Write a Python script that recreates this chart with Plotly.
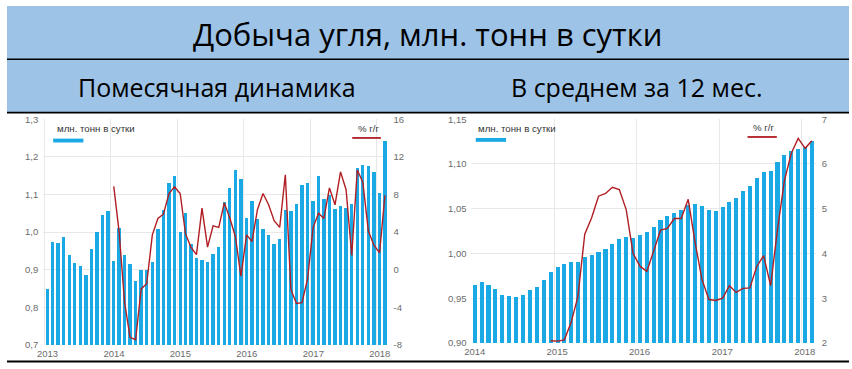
import pandas as pd
import plotly.graph_objects as go

# ---------------- data ----------------
title_text = "Добыча угля, млн. тонн в сутки"
subtitle_left = "Помесячная динамика"
subtitle_right = "В среднем за 12 мес."
bar_name = "млн. тонн в сутки"
line_name = "% г/г"

# Monthly output, mln t/day, Jan 2013 .. Feb 2018
monthly_months = pd.date_range("2013-01-01", "2018-02-01", freq="MS")
monthly_output = [
    0.849, 0.973, 0.972, 0.986, 0.939, 0.918, 0.909, 0.887, 0.956, 1.001, 1.045, 1.057,
    0.924, 1.011, 0.940, 0.916, 0.869, 0.898, 0.898, 0.921, 1.009, 1.059, 1.130, 1.150,
    1.000, 1.052, 0.969, 0.932, 0.926, 0.920, 0.941, 0.960, 1.081, 1.117, 1.164, 1.141,
    1.038, 1.083, 1.034, 1.008, 0.992, 0.968, 0.982, 1.059, 1.057, 1.075, 1.126, 1.130,
    1.083, 1.150, 1.088, 1.098, 1.061, 1.070, 1.065, 1.075, 1.169, 1.177, 1.176, 1.161,
    1.105, 1.242,
]
# Monthly y/y growth, %, Jan 2014 .. Feb 2018
monthly_yoy_months = pd.date_range("2014-01-01", "2018-02-01", freq="MS")
monthly_yoy = [
    8.85, 4.0, -3.4, -7.2, -7.45, -2.05, -1.5, 3.7, 5.45, 5.9, 8.1, 8.8,
    8.1, 3.8, 2.4, 1.6, 6.55, 2.4, 4.65, 4.5, 7.1, 5.5, 3.5, -0.7,
    3.7, 3.0, 6.4, 8.1, 6.9, 5.2, 4.5, 10.1, -2.1, -3.6, -3.5, -1.0,
    4.5, 6.0, 5.45, 8.7, 6.9, 10.4, 8.5, 1.5, 10.6, 9.3, 4.1, 2.6,
    1.8, 7.9,
]

# 12-month average output, mln t/day, Jan 2014 .. Feb 2018
avg_months = pd.date_range("2014-01-01", "2018-02-01", freq="MS")
avg_output = [
    0.9647, 0.968, 0.965, 0.960, 0.954, 0.952, 0.951, 0.954, 0.959, 0.963, 0.970, 0.979,
    0.9845, 0.9885, 0.990, 0.991, 0.9965, 0.998, 1.002, 1.005, 1.011, 1.0156, 1.0185, 1.0178,
    1.021, 1.0239, 1.0297, 1.0369, 1.042, 1.0456, 1.0489, 1.054, 1.0554, 1.0525, 1.0488, 1.048,
    1.0517, 1.0572, 1.0618, 1.0698, 1.0752, 1.0839, 1.0911, 1.0922, 1.102, 1.1103, 1.1146, 1.1168,
    1.1186, 1.1262,
]
# 12-month average y/y growth, %, Dec 2014 .. Feb 2018
avg_yoy_months = pd.date_range("2014-12-01", "2018-02-01", freq="MS")
avg_yoy = [
    2.05,
    2.04, 2.07, 2.45, 3.03, 4.43, 4.8, 5.28, 5.34, 5.48, 5.43, 4.98, 4.0,
    3.71, 3.6, 4.04, 4.52, 4.56, 4.78, 4.78, 5.21, 4.25, 3.42, 2.97, 2.95,
    3.0, 3.28, 3.13, 3.22, 3.23, 3.71, 3.95, 3.28, 4.54, 5.63, 6.24, 6.57,
    6.35, 6.52,
]

left_y_ticks = [0.7, 0.8, 0.9, 1.0, 1.1, 1.2, 1.3]
left_y2_ticks = [-8, -4, 0, 4, 8, 12, 16]
left_y2_labels = ["-8", "-4", "0", "4", "8", "12", "16"]
right_y_ticks = [0.90, 0.95, 1.00, 1.05, 1.10, 1.15]
right_y2_ticks = [2, 3, 4, 5, 6, 7]
right_y2_labels = ["2", "3", "4", "5", "6", "7"]

# ---------------- style ----------------
W, H = 852, 369
BAR_COLOR = "#1AA9E4"
LINE_COLOR = "#B01E23"
HEADER_BG = "#9DC3E6"
GRID = "#E8E8E8"
TICK_FONT = dict(family="Liberation Sans, Arial, sans-serif", size=9.5, color="#6b6b6b")
MONTH_MS = 30.44 * 86400000


def px_x(x):
    return x / W


def px_y(y):
    return 1 - y / H


fig = go.Figure()

# Left chart
fig.add_trace(go.Bar(x=monthly_months, y=monthly_output, xaxis="x", yaxis="y",
                     marker=dict(color=BAR_COLOR, line=dict(width=0)),
                     width=[0.6 * MONTH_MS] * len(monthly_output),
                     xperiod="M1", xperiodalignment="middle", name=bar_name))
fig.add_trace(go.Scatter(x=monthly_yoy_months, y=monthly_yoy, xaxis="x", yaxis="y2",
                         mode="lines", line=dict(color=LINE_COLOR, width=1.4),
                         xperiod="M1", xperiodalignment="middle", name=line_name))
# Right chart
fig.add_trace(go.Bar(x=avg_months, y=avg_output, xaxis="x2", yaxis="y3",
                     marker=dict(color=BAR_COLOR, line=dict(width=0)),
                     width=[0.6 * MONTH_MS] * len(avg_output),
                     xperiod="M1", xperiodalignment="middle", name=bar_name))
fig.add_trace(go.Scatter(x=avg_yoy_months, y=avg_yoy, xaxis="x2", yaxis="y4",
                         mode="lines", line=dict(color=LINE_COLOR, width=1.4),
                         xperiod="M1", xperiodalignment="middle", name=line_name))

xcommon = dict(type="date", dtick="M12", tickformat="%Y", showgrid=True, gridcolor=GRID,
               gridwidth=1, zeroline=False, showline=False, ticks="", tickfont=TICK_FONT,
               ticklabelshift=3, ticklabelstandoff=2, fixedrange=True)
ycommon = dict(showline=False, zeroline=False, ticks="", tickfont=TICK_FONT, fixedrange=True)

fig.update_layout(
    width=W, height=H, margin=dict(l=0, r=0, t=0, b=0),
    paper_bgcolor="white", plot_bgcolor="white",
    showlegend=False, separators=", ", bargap=0,
    xaxis=dict(xcommon, domain=[px_x(36.7), px_x(385)], anchor="y",
               range=["2012-12-25", "2018-03-01"], tick0="2013-01-01"),
    yaxis=dict(ycommon, domain=[px_y(349.3), px_y(116.7)], anchor="x",
               range=[0.7, 1.3], tickvals=left_y_ticks, tickformat=".1f",
               showgrid=True, gridcolor=GRID, ticklabelstandoff=4),
    yaxis2=dict(ycommon, overlaying="y", side="right", anchor="x",
                range=[-8, 16], tickvals=left_y2_ticks, ticktext=left_y2_labels,
                showgrid=False, ticklabelstandoff=5),
    xaxis2=dict(xcommon, domain=[px_x(470), px_x(818.3)], anchor="y3",
                range=["2013-12-31", "2018-03-04"], tick0="2014-01-01"),
    yaxis3=dict(ycommon, domain=[px_y(347.3), px_y(116.7)], anchor="x2",
                range=[0.90, 1.15], tickvals=right_y_ticks, tickformat=".2f",
                showgrid=True, gridcolor=GRID, ticklabelstandoff=4),
    yaxis4=dict(ycommon, overlaying="y3", side="right", anchor="x2",
                range=[2, 7], tickvals=right_y2_ticks, ticktext=right_y2_labels,
                showgrid=False, ticklabelstandoff=5),
)

shapes = [
    # header background and rules
    dict(type="rect", xref="paper", yref="paper", x0=0, x1=1, y0=px_y(110), y1=1,
         fillcolor=HEADER_BG, line=dict(width=0), layer="below"),
    dict(type="line", xref="paper", yref="paper", x0=0, x1=1, y0=px_y(55), y1=px_y(55),
         line=dict(color="black", width=1.5)),
    dict(type="line", xref="paper", yref="paper", x0=0, x1=1, y0=px_y(110), y1=px_y(110),
         line=dict(color="black", width=1.8)),
    dict(type="line", xref="paper", yref="paper", x0=0, x1=1, y0=px_y(366.5), y1=px_y(366.5),
         line=dict(color="black", width=2)),
    # legend keys
    dict(type="rect", xref="paper", yref="paper", x0=px_x(46.7), x1=px_x(77.3),
         y0=px_y(140.7), y1=px_y(136.7), fillcolor=BAR_COLOR, line=dict(width=0)),
    dict(type="line", xref="paper", yref="paper", x0=px_x(349.3), x1=px_x(378.3),
         y0=px_y(136), y1=px_y(136), line=dict(color=LINE_COLOR, width=1.8)),
    dict(type="rect", xref="paper", yref="paper", x0=px_x(474.3), x1=px_x(505),
         y0=px_y(140), y1=px_y(136), fillcolor=BAR_COLOR, line=dict(width=0)),
    dict(type="line", xref="paper", yref="paper", x0=px_x(749.3), x1=px_x(779),
         y0=px_y(135), y1=px_y(135), line=dict(color=LINE_COLOR, width=1.8)),
]
fig.update_layout(shapes=shapes)

HEAD_FONT = "Open Sans, Noto Sans, sans-serif"
LEG_FONT = dict(family="Liberation Sans, Arial, sans-serif", size=9.7, color="#333333")
annotations = [
    dict(text=title_text, x=px_x(425.5), y=px_y(29), xanchor="center", yanchor="middle",
         font=dict(family=HEAD_FONT, size=31, color="black")),
    dict(text=subtitle_left, x=px_x(212), y=px_y(84), xanchor="center", yanchor="middle",
         font=dict(family=HEAD_FONT, size=25, color="black")),
    dict(text=subtitle_right, x=px_x(637), y=px_y(84), xanchor="center", yanchor="middle",
         font=dict(family=HEAD_FONT, size=25, color="black")),
    dict(text=bar_name, x=px_x(48.3), y=px_y(126.7), xanchor="left", yanchor="middle",
         font=LEG_FONT),
    dict(text=line_name, x=px_x(366.2), y=px_y(126), xanchor="center", yanchor="middle",
         font=LEG_FONT),
    dict(text=bar_name, x=px_x(475), y=px_y(126.7), xanchor="left", yanchor="middle",
         font=LEG_FONT),
    dict(text=line_name, x=px_x(766.3), y=px_y(125), xanchor="center", yanchor="middle",
         font=LEG_FONT),
]
for a in annotations:
    a.update(xref="paper", yref="paper", showarrow=False)
fig.update_layout(annotations=annotations)

fig.write_html("out.html",
               config={"displayModeBar": False, "staticPlot": True},
               post_script="document.body.style.margin='0';document.body.style.overflow='hidden';")
